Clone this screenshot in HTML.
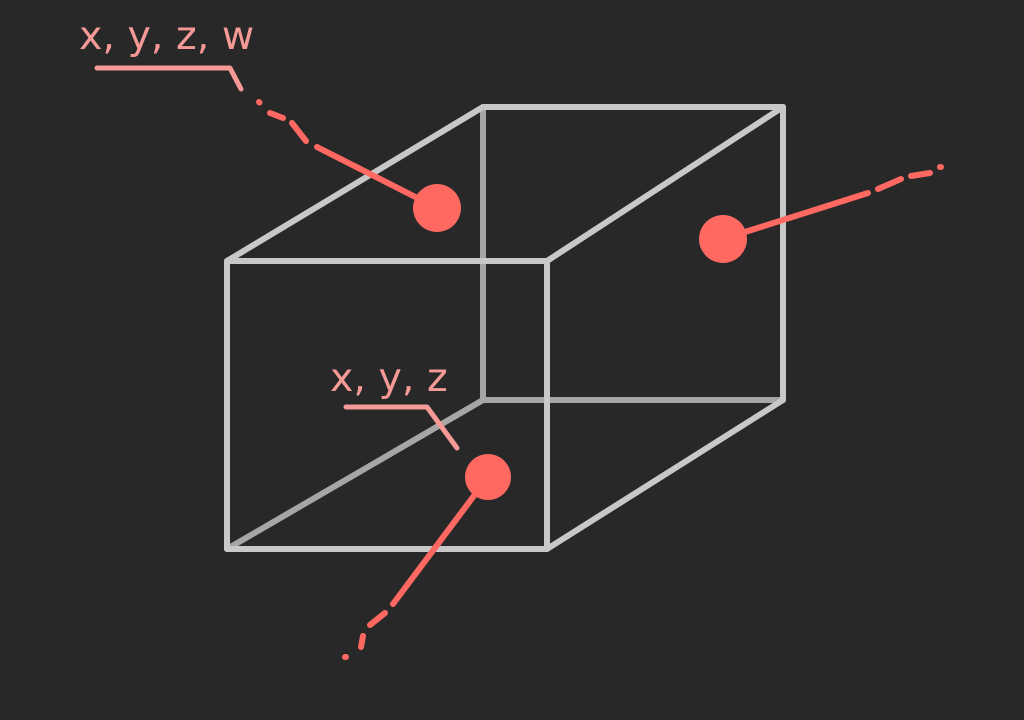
<!DOCTYPE html>
<html><head><meta charset="utf-8"><style>
html,body{margin:0;padding:0;background:#282828;width:1024px;height:720px;overflow:hidden}
svg{display:block}
text{font-family:"DejaVu Sans","Liberation Sans",sans-serif;fill:#f59a96;font-size:39.5px}
</style></head><body>
<svg width="1024" height="720" viewBox="0 0 1024 720">
<rect width="1024" height="720" fill="#282828"/>
<g stroke="#a6a6a6" stroke-width="6" stroke-linecap="round" fill="none">
<line x1="483" y1="107" x2="483" y2="400"/>
<line x1="483" y1="400" x2="783" y2="400"/>
<line x1="227" y1="549" x2="483" y2="400"/>
</g>
<g stroke="#c8c8c8" stroke-width="6" stroke-linecap="round" stroke-linejoin="round" fill="none">
<rect x="227" y="261" width="320" height="288"/>
<line x1="227" y1="261" x2="483" y2="107"/>
<line x1="483" y1="107" x2="783" y2="107"/>
<line x1="783" y1="107" x2="783" y2="400"/>
<line x1="547" y1="261" x2="783" y2="107"/>
<line x1="547" y1="549" x2="783" y2="400"/>
</g>
<g stroke="#ff6961" stroke-width="6" stroke-linecap="round" fill="none">
<g>
<line x1="437" y1="208" x2="317" y2="147"/>
<line x1="292" y1="123" x2="306" y2="141"/>
<line x1="270" y1="113" x2="283" y2="118"/>
<line x1="259" y1="102" x2="259.5" y2="102.5"/>
</g>
<g>
<line x1="723" y1="239" x2="868" y2="193"/>
<line x1="878" y1="189" x2="901" y2="179"/>
<line x1="911" y1="176" x2="930" y2="173"/>
<line x1="940" y1="167" x2="941" y2="167"/>
</g>
<g>
<line x1="488" y1="477" x2="393" y2="604"/>
<line x1="385" y1="613" x2="370" y2="625"/>
<line x1="363" y1="636" x2="361" y2="647"/>
<line x1="345" y1="657" x2="346" y2="657"/>
</g>
</g>
<g fill="#ff6961">
<circle cx="437" cy="208" r="24"/>
<circle cx="723" cy="239" r="24"/>
<circle cx="488" cy="477" r="23"/>
</g>
<g stroke="#f59a96" stroke-width="5" stroke-linecap="round" stroke-linejoin="round" fill="none">
<polyline points="97,68 230,68 241,89"/>
<polyline points="346,407 427,407 457,448"/>
</g>
<text x="79" y="49">x, y, z, w</text>
<text x="330" y="391">x, y, z</text>
</svg>
</body></html>
